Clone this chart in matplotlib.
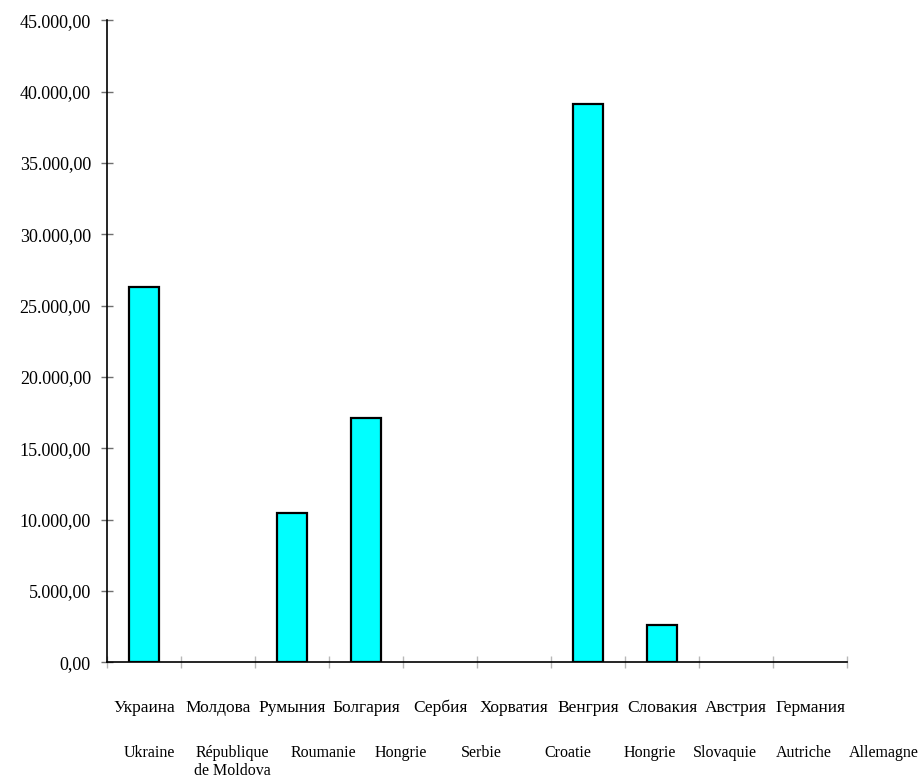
import numpy as np
from matplotlib import pyplot as plt
from matplotlib.ticker import FuncFormatter

plt.rcParams['font.family'] = ['Liberation Serif', 'DejaVu Serif']

labels_ru = ['Украина', 'Молдова', 'Румыния', 'Болгария', 'Сербия',
             'Хорватия', 'Венгрия', 'Словакия', 'Австрия', 'Германия']
labels_fr = ['Ukraine', 'République\nde Moldova', 'Roumanie', 'Hongrie', 'Serbie',
             'Croatie', 'Hongrie', 'Slovaquie', 'Autriche', 'Allemagne']
values = [26330, 0, 10440, 17100, 0, 0, 39130, 2610, 0, 0]

# the French row is typed separately in the original and does not sit exactly under the bars
fr_pos = [0.08, 1.19, 2.42, 3.47, 4.56, 5.73, 6.84, 7.85, 8.92, 9.99]

x = np.arange(len(labels_ru))

fig = plt.figure(figsize=(9.22, 7.79), dpi=100)
ax = fig.add_axes([0.116, 0.150, 0.8027, 0.824])

# empty categories get no outline
edges = ['black' if v > 0 else 'none' for v in values]
ax.bar(x, values, width=0.405, color='#00ffff', edgecolor=edges, linewidth=1.6)

ax.set_xlim(-0.5, len(x) - 0.5)
ax.set_ylim(0, 45000)
ax.set_yticks(np.arange(0, 45001, 5000))

def fmt(v, pos):
    s = '{:,.2f}'.format(v)
    return s.replace(',', ' ').replace('.', ',').replace(' ', '.')

ax.yaxis.set_major_formatter(FuncFormatter(fmt))
ax.tick_params(axis='y', direction='inout', length=9, width=1, color='#707070',
               labelsize=13, pad=7)

ax.set_xticks(np.arange(-0.5, len(x), 1.0))
ax.set_xticklabels([])
ax.tick_params(axis='x', which='major', direction='inout', length=9, width=1, color='#b8b8b8')
ax.set_xticks(x, minor=True)
ax.set_xticklabels(labels_ru, minor=True, fontsize=12.5)
ax.tick_params(axis='x', which='minor', length=0, pad=27)

for p, lab in zip(fr_pos, labels_fr):
    ax.annotate(lab, xy=(p, 0), xycoords=ax.get_xaxis_transform(),
                xytext=(0, -60), textcoords='offset points', annotation_clip=False,
                ha='center', va='top', fontsize=11.5, linespacing=1.15)

for side in ['top', 'right']:
    ax.spines[side].set_visible(False)
ax.spines['left'].set_linewidth(1.2)
ax.spines['bottom'].set_linewidth(1.2)

fig.savefig('out.png', dpi=100)
